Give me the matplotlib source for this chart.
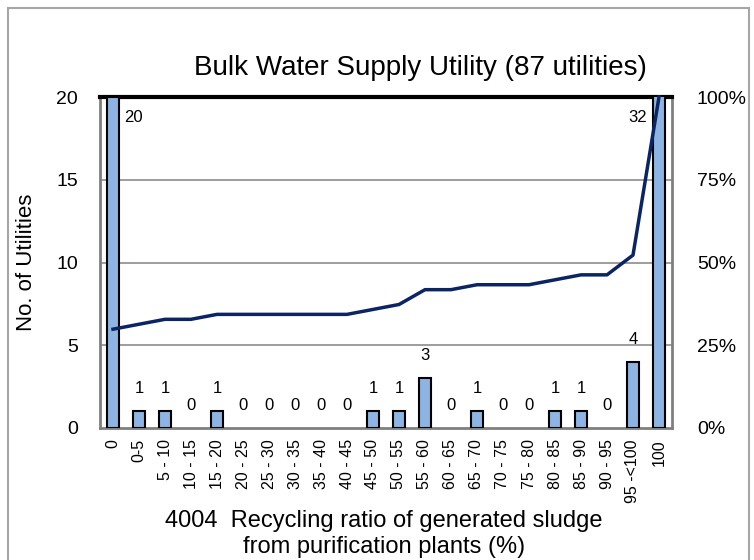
import matplotlib
matplotlib.use("Agg")
import matplotlib.pyplot as plt
from matplotlib.patches import Rectangle
import numpy as np

plt.rcParams['font.family'] = ['Liberation Sans', 'DejaVu Sans']

# data
categories = ["0", "0-5", "5 - 10", "10 - 15", "15 - 20", "20 - 25", "25 - 30",
              "30 - 35", "35 - 40", "40 - 45", "45 - 50", "50 - 55", "55 - 60",
              "60 - 65", "65 - 70", "70 - 75", "75 - 80", "80 - 85", "85 - 90",
              "90 - 95", "95 -<100", "100"]
counts = [20, 1, 1, 0, 1, 0, 0, 0, 0, 0, 1, 1, 3, 0, 1, 0, 0, 1, 1, 0, 4, 32]

# cumulative share (%) shown by the line
cum_pct = np.cumsum(counts) / sum(counts) * 100

fig = plt.figure(figsize=(7.54, 5.6), dpi=100)
ax = fig.add_axes([100 / 754, 1 - 428 / 560, 572 / 754, 331 / 560])
ax2 = ax.twinx()

x = np.arange(len(categories))
edges = ['black' if v > 0 else 'none' for v in counts]
ax.bar(x, counts, width=0.47, color='#8DB4E2', edgecolor=edges, linewidth=1.5, zorder=3)

ymax = 20
ax.set_ylim(0, ymax)
ax.set_xlim(-0.5, len(categories) - 0.5)
ax.set_yticks([0, 5, 10, 15, 20])
ax.set_xticks(x)
ax.set_xticklabels(categories, rotation=90, fontsize=11.5)
ax.tick_params(axis='y', length=0, pad=16, labelsize=14)
ax.tick_params(axis='x', length=0, pad=8)
for y in [5, 10, 15]:
    ax.axhline(y, color='#8c8c8c', linewidth=1.2, zorder=1)

for s in ['left', 'bottom', 'right']:
    ax.spines[s].set_color('#7f7f7f')
    ax.spines[s].set_linewidth(2)
ax.spines['top'].set_color('black')
ax.spines['top'].set_linewidth(3)
for s in ax2.spines.values():
    s.set_visible(False)

# value labels
for xi, v in zip(x, counts):
    if v >= ymax:
        if xi == 0:
            ax.annotate(str(v), (xi, ymax), xytext=(8, -9), textcoords='offset points',
                        ha='left', va='top', fontsize=12)
        else:
            ax.annotate(str(v), (xi, ymax), xytext=(-9, -9), textcoords='offset points',
                        ha='right', va='top', fontsize=12)
    else:
        ax.annotate(str(v), (xi, v), xytext=(0, 11), textcoords='offset points',
                    ha='center', va='bottom', fontsize=12)

ax2.plot(x, cum_pct, color='#0B2463', linewidth=2.5, zorder=5, clip_on=False)
ax2.set_ylim(0, 100)
ax2.set_yticks([0, 25, 50, 75, 100])
ax2.set_yticklabels(['0%', '25%', '50%', '75%', '100%'])
ax2.tick_params(axis='y', length=0, pad=18, labelsize=14)

ax.set_ylabel('No. of Utilities', fontsize=16, labelpad=14)

fig.text(420 / 754, 1 - 68 / 560, 'Bulk Water Supply Utility (87 utilities)',
         ha='center', va='center', fontsize=20)
fig.text(384 / 754, 1 - 521 / 560, '4004  Recycling ratio of generated sludge',
         ha='center', va='center', fontsize=17)
fig.text(384 / 754, 1 - 547 / 560, 'from purification plants (%)',
         ha='center', va='center', fontsize=17)

fig.patches.append(Rectangle((8 / 754, -0.02), 741 / 754, 1 - 8 / 560 + 0.02,
                             transform=fig.transFigure, fill=False,
                             edgecolor='#a6a6a6', linewidth=1.5))

fig.savefig('out.png', dpi=100)
